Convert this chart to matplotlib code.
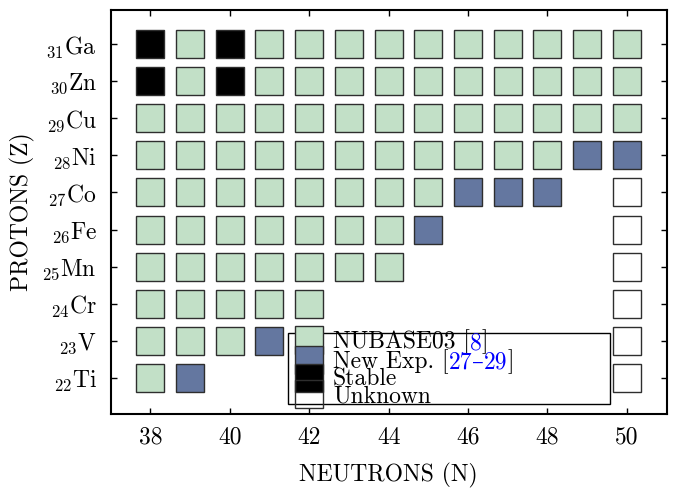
import matplotlib
matplotlib.use("Agg")
import matplotlib.pyplot as plt
from matplotlib.lines import Line2D

plt.rcParams['font.family'] = ['cmr10', 'DejaVu Serif']
plt.rcParams['mathtext.fontset'] = 'cm'
plt.rcParams['axes.formatter.use_mathtext'] = True

# Data: (N, Z) per category
known_N = [39, 41, 42, 43, 44, 45, 46, 47, 48, 49, 50,
           39, 41, 42, 43, 44, 45, 46, 47, 48, 49, 50,
           38, 39, 40, 41, 42, 43, 44, 45, 46, 47, 48, 49, 50,
           38, 39, 40, 41, 42, 43, 44, 45, 46, 47, 48,
           38, 39, 40, 41, 42, 43, 44, 45,
           38, 39, 40, 41, 42, 43, 44,
           38, 39, 40, 41, 42, 43, 44,
           38, 39, 40, 41, 42,
           38, 39, 40,
           38]
known_Z = [31] * 11 + [30] * 11 + [29] * 13 + [28] * 11 + [27] * 8 + [26] * 7 + [25] * 7 + [24] * 5 + [23] * 3 + [22]

newexp_N = [49, 50, 46, 47, 48, 45, 41, 39]
newexp_Z = [28, 28, 27, 27, 27, 26, 23, 22]

stable_N = [38, 40, 38, 40]
stable_Z = [31, 31, 30, 30]

unknown_N = [50, 50, 50, 50, 50, 50]
unknown_Z = [27, 26, 25, 24, 23, 22]

z_ticks = [22, 23, 24, 25, 26, 27, 28, 29, 30, 31]
z_labels = ['Ti', 'V', 'Cr', 'Mn', 'Fe', 'Co', 'Ni', 'Cu', 'Zn', 'Ga']
n_ticks = [38, 40, 42, 44, 46, 48, 50]

green = '#c2e0c7'
blue = '#6477a0'
edge = '#2e2e2e'
ms = 19.8

fig = plt.figure(figsize=(6.83, 4.90), dpi=100)
ax = fig.add_axes([0.162, 0.1545, 0.814, 0.8257])

common = dict(ls='none', marker='s', ms=ms, mec=edge, mew=1.0)
ax.plot(known_N, known_Z, mfc=green, **common)
ax.plot(newexp_N, newexp_Z, mfc=blue, **common)
ax.plot(stable_N, stable_Z, mfc='black', **common)
ax.plot(unknown_N, unknown_Z, mfc='white', **common)

ax.set_xlim(37, 51)
ax.set_ylim(21.03, 31.92)
ax.set_xticks(n_ticks)
ax.set_xticklabels([str(n) for n in n_ticks])
ax.set_yticks(z_ticks)
ax.set_yticklabels([r'$_{%d}$%s' % (z, s) for z, s in zip(z_ticks, z_labels)])
ax.tick_params(direction='in', length=4, width=1, top=True, right=True, labelsize=17)
ax.tick_params(axis='x', pad=9)
ax.tick_params(axis='y', pad=10)
for sp in ax.spines.values():
    sp.set_linewidth(1.5)

ax.set_xlabel('NEUTRONS (N)', fontsize=17, labelpad=10)
ax.set_ylabel('PROTONS (Z)', fontsize=17, labelpad=5)

lfs = 17
handles = [
    Line2D([], [], mfc=green, **common),
    Line2D([], [], mfc=blue, **common),
    Line2D([], [], mfc='black', **common),
    Line2D([], [], mfc='none', **common),
]
labels = ['NUBASE03 [', 'New Exp. [', 'Stable', 'Unknown']
leg = ax.legend(handles, labels, loc='lower left',
                bbox_to_anchor=(0.319, 0.0255, 0.579, 0.18), mode='expand',
                borderaxespad=0, fontsize=lfs, frameon=True, fancybox=False,
                edgecolor='black', framealpha=1, borderpad=-0.14,
                labelspacing=-0.225, handlelength=2.1, handletextpad=-0.05,
                handleheight=0.6)
leg.get_frame().set_linewidth(1.0)
texts = leg.get_texts()

def chain(prev, s, color):
    return ax.annotate(s, xy=(1, 0), xycoords=prev, va='bottom', ha='left',
                       fontsize=lfs, color=color, zorder=10)

a = chain(texts[0], '8', 'blue')
chain(a, ']', 'black')
b = chain(texts[1], '27', 'blue')
c = chain(b, '\u2013', 'blue')
d = chain(c, '29', 'blue')
chain(d, ']', 'black')

fig.savefig('out.png', dpi=100)
